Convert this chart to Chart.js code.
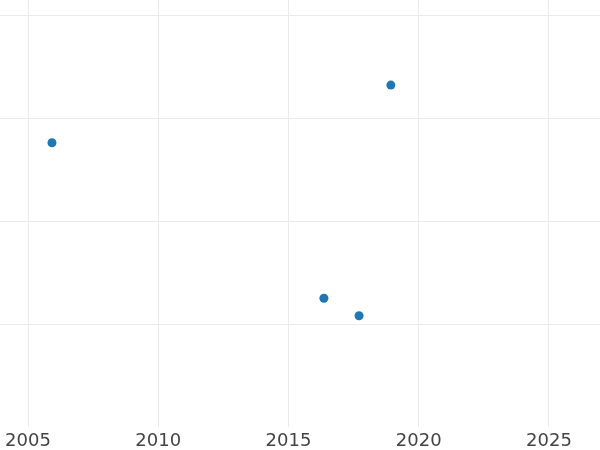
<!DOCTYPE html>
<html>
<head>
<meta charset="utf-8">
<script src="https://cdn.jsdelivr.net/npm/chart.js@4.4.1/dist/chart.umd.min.js"></script>
<style>
  html, body { margin: 0; padding: 0; background: #fff; }
  #wrap { width: 600px; height: 450px; }
</style>
</head>
<body>
<div id="wrap"><canvas id="scatter"></canvas></div>
<script>
// values
var years = [2005.92, 2016.36, 2017.71, 2018.93];
var values = [2.76, 1.25, 1.08, 3.32];
var xTicks = [2005, 2010, 2015, 2020, 2025];
var yTicks = [0, 1, 2, 3, 4];

var points = [];
for (var i = 0; i < years.length; i++) {
  points.push({ x: years[i], y: values[i] });
}

var ctx = document.getElementById("scatter");

var chart = new Chart(ctx, {
  type: "scatter",
  data: {
    datasets: [
      {
        data: points,
        backgroundColor: "#1f77b4",
        borderColor: "#1f77b4",
        pointRadius: 4.5,
        pointHoverRadius: 4.5,
        borderWidth: 0
      }
    ]
  },
  options: {
    responsive: true,
    maintainAspectRatio: false,
    animation: false,
    layout: { padding: 0, autoPadding: false },
    plugins: {
      legend: { display: false },
      tooltip: { enabled: false }
    },
    scales: {
      x: {
        type: "linear",
        min: 2003.925,
        max: 2026.96,
        afterBuildTicks: function(scale) {
          scale.ticks = xTicks.map(function(v) { return { value: v }; });
        },
        afterFit: function(scale) { scale.height = 23; },
        border: { display: false },
        grid: { color: "#ebebeb", lineWidth: 1, drawTicks: false },
        ticks: {
          padding: 4,
          color: "#444444",
          maxRotation: 0,
          font: { family: "DejaVu Sans", size: 18 },
          callback: function(v) { return String(v); }
        }
      },
      y: {
        min: 0,
        max: 4.146,
        afterBuildTicks: function(scale) {
          scale.ticks = yTicks.map(function(v) { return { value: v }; });
        },
        afterFit: function(scale) { scale.width = 0; },
        border: { display: false },
        grid: {
          color: function(c) { return c.tick && c.tick.value === 0 ? "rgba(0,0,0,0)" : "#ebebeb"; },
          lineWidth: 1,
          drawTicks: false
        },
        ticks: { display: false }
      }
    }
  }
});
</script>
</body>
</html>
